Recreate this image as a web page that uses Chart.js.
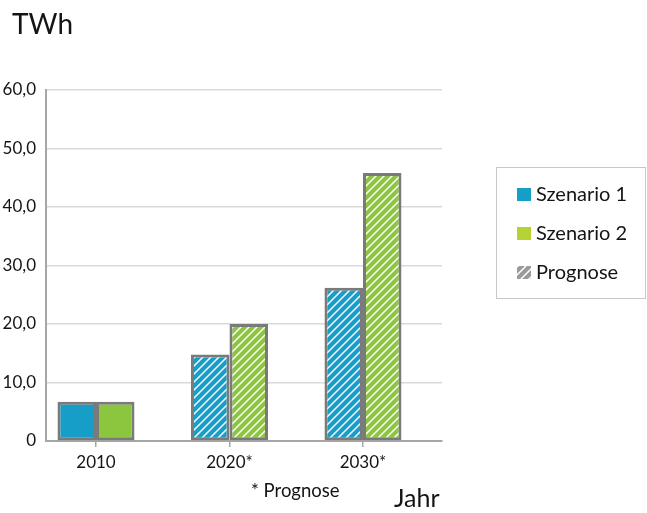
<!DOCTYPE html>
<html>
<head>
<meta charset="utf-8">
<script src="https://cdn.jsdelivr.net/npm/chart.js@4/dist/chart.umd.min.js"></script>
<style>
  html, body { margin: 0; padding: 0; background: #fff; }
  canvas { display: block; }
</style>
</head>
<body>
<canvas id="c" width="647" height="513"></canvas>
<script>
// Stromerzeugung in TWh je Szenario
const years = ['2010', '2020*', '2030*'];
const isForecast = [false, true, true];
const szenario1 = [6.7, 14.8, 26.2];
const szenario2 = [6.7, 20.0, 45.8];
const yTicks = [0, 10, 20, 30, 40, 50, 60];
const legendLabels = ['Szenario 1', 'Szenario 2', 'Prognose'];

const BLUE = '#169ec8';
const GREEN = '#8cc63f';
const LEGEND_GREEN = '#b5d334';
const FONT = 'Lato, "Open Sans", sans-serif';
const TEXT = '#141414';

const canvas = document.getElementById('c');
const ctx = canvas.getContext('2d');

// diagonal white stripes on a coloured ground, used for forecast bars
function hatch(color) {
  const s = 8;
  const t = document.createElement('canvas');
  t.width = s; t.height = s;
  const g = t.getContext('2d');
  g.fillStyle = color;
  g.fillRect(0, 0, s, s);
  g.strokeStyle = '#ffffff';
  g.lineWidth = 1.5;
  g.beginPath();
  g.moveTo(0, s); g.lineTo(s, 0);
  g.moveTo(-2, 2); g.lineTo(2, -2);
  g.moveTo(s - 2, s + 2); g.lineTo(s + 2, s - 2);
  g.stroke();
  return ctx.createPattern(t, 'repeat');
}

function fills(color) {
  return isForecast.map(f => f ? hatch(color) : color);
}

const toPoints = vals => vals.map((v, i) => ({ x: i, y: v }));

// free text and the framed legend
const decorations = {
  id: 'decorations',
  afterDraw(chart) {
    const c = chart.ctx;
    c.save();
    c.fillStyle = TEXT;
    c.textBaseline = 'alphabetic';
    c.textAlign = 'left';
    c.font = '28px ' + FONT;
    c.fillText('TWh', 12, 34);
    c.font = '25px ' + FONT;
    c.fillText('Jahr', 394, 507);
    c.font = '18.5px ' + FONT;
    c.fillText('* Prognose', 251, 497);

    // legend frame
    c.strokeStyle = '#c8c8c8';
    c.lineWidth = 1;
    c.strokeRect(496.5, 167.5, 149, 131);

    const swatches = [BLUE, LEGEND_GREEN, hatch('#9a9a9a')];
    legendLabels.forEach((lab, i) => {
      const cy = 195 + i * 39;
      c.fillStyle = swatches[i];
      c.fillRect(517, cy - 7, 14, 13);
      c.fillStyle = TEXT;
      c.font = '20px ' + FONT;
      c.textBaseline = 'middle';
      c.fillText(lab, 536, cy);
    });
    c.restore();
  }
};

new Chart(ctx, {
  type: 'bar',
  data: {
    datasets: [
      {
        label: legendLabels[0],
        data: toPoints(szenario1),
        backgroundColor: fills(BLUE),
        borderColor: '#7a7a7a',
        borderWidth: 3,
        borderSkipped: false
      },
      {
        label: legendLabels[1],
        data: toPoints(szenario2),
        backgroundColor: fills(GREEN),
        borderColor: '#7a7a7a',
        borderWidth: 3,
        borderSkipped: false
      }
    ]
  },
  options: {
    responsive: false,
    animation: false,
    devicePixelRatio: 1,
    categoryPercentage: 0.577,
    barPercentage: 1,
    layout: { padding: { top: 90, right: 205, left: 0, bottom: 0 } },
    plugins: {
      legend: { display: false },
      tooltip: { enabled: false }
    },
    scales: {
      x: {
        type: 'linear',
        offset: false,
        min: -0.3745,
        max: 2.592,
        afterBuildTicks: axis => { axis.ticks = years.map((_, i) => ({ value: i })); },
        afterFit: scale => { scale.height = 72; },
        ticks: {
          callback: (v, i) => years[i],
          color: TEXT,
          font: { family: FONT, size: 17 },
          padding: 5,
          maxRotation: 0
        },
        grid: {
          display: true,
          offset: false,
          drawOnChartArea: false,
          drawTicks: true,
          tickLength: 6,
          color: '#a6a6a6',
          lineWidth: 1.5
        },
        border: { color: '#a6a6a6', width: 2 }
      },
      y: {
        min: 0,
        max: 60,
        afterBuildTicks: axis => { axis.ticks = yTicks.map(v => ({ value: v })); },
        afterFit: scale => { scale.width = 46; },
        ticks: {
          callback: v => v === 0 ? '0' : v.toFixed(1).replace('.', ','),
          color: TEXT,
          font: { family: FONT, size: 17 },
          padding: 10
        },
        grid: {
          color: '#d9d9d9',
          lineWidth: 1.5,
          drawTicks: false
        },
        border: { color: '#a6a6a6', width: 2 }
      }
    }
  },
  plugins: [decorations]
});
</script>
</body>
</html>
